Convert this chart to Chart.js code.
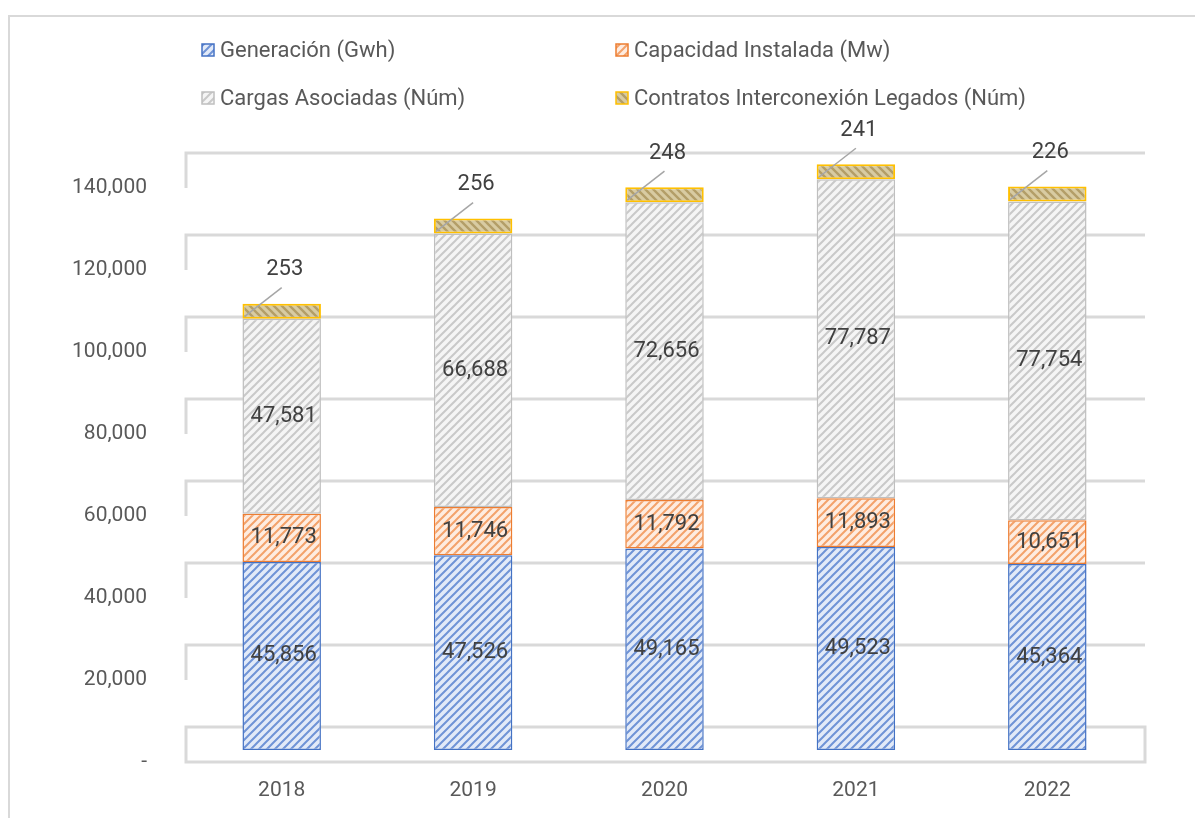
<!DOCTYPE html>
<html>
<head>
<meta charset="utf-8">
<script src="https://cdn.jsdelivr.net/npm/chart.js@4.4.1/dist/chart.umd.min.js"></script>
<style>
    html, body { margin: 0; padding: 0; background: #fff; }
    #wrap { width: 1195px; height: 818px; }
</style>
</head>
<body>
<div id="wrap"><canvas id="energyChart" width="1195" height="818"></canvas></div>
<script>
const years = ["2018", "2019", "2020", "2021", "2022"];
const generacion = [45856, 47526, 49165, 49523, 45364];
const capacidad = [11773, 11746, 11792, 11893, 10651];
const cargas = [47581, 66688, 72656, 77787, 77754];
const contratos = [253, 256, 248, 241, 226];
const yTicks = [0, 20000, 40000, 60000, 80000, 100000, 120000, 140000];
const seriesLabels = [
    "Generación (Gwh)",
    "Capacidad Instalada (Mw)",
    "Cargas Asociadas (Núm)",
    "Contratos Interconexión Legados (Núm)",
];

const textFont = "Roboto, 'Liberation Sans', sans-serif";

// diagonal hatch tile, dir 1 = "/", dir -1 = "\"
function makeHatch(bg, fg, lineW, size, dir) {
    const c = document.createElement("canvas");
    c.width = size;
    c.height = size;
    const g = c.getContext("2d");
    g.fillStyle = bg;
    g.fillRect(0, 0, size, size);
    g.strokeStyle = fg;
    g.lineWidth = lineW;
    g.beginPath();
    if (dir > 0) {
        g.moveTo(-1, size + 1); g.lineTo(size + 1, -1);
        g.moveTo(-1, 1); g.lineTo(1, -1);
        g.moveTo(size - 1, size + 1); g.lineTo(size + 1, size - 1);
    } else {
        g.moveTo(-1, -1); g.lineTo(size + 1, size + 1);
        g.moveTo(size - 1, -1); g.lineTo(size + 1, 1);
        g.moveTo(-1, size - 1); g.lineTo(1, size + 1);
    }
    g.stroke();
    return document.createElement("canvas").getContext("2d").createPattern(c, "repeat");
}

const hatchBlue = makeHatch("#e2eaf8", "#6f93d6", 2, 8, 1);
const hatchOrange = makeHatch("#feece0", "#f3a26b", 2, 8, 1);
const hatchGray = makeHatch("#f5f5f5", "#c9c9c9", 2, 8, 1);
const hatchYellow = makeHatch("#d8cba2", "#b39e68", 2.4, 8, -1);

const fills = [hatchBlue, hatchOrange, hatchGray, hatchYellow];
const borders = ["#4472C4", "#ED7D31", "#BFBFBF", "#FFC000"];

function fmt(v) {
    return v.toLocaleString("en-US");
}

const wallPlugin = {
    id: "wall",
    beforeDraw(chart) {
        const ctx = chart.ctx;
        ctx.save();
        ctx.fillStyle = "#fff";
        ctx.fillRect(0, 0, chart.width, chart.height);
        ctx.strokeStyle = "#d9d9d9";
        ctx.lineWidth = 2;
        ctx.beginPath();
        ctx.moveTo(9, chart.height);
        ctx.lineTo(9, 16);
        ctx.lineTo(chart.width, 16);
        ctx.stroke();
        ctx.restore();
    },
    beforeDatasetsDraw(chart) {
        const ctx = chart.ctx;
        const yScale = chart.scales.y;
        const left = chart.chartArea.left;
        const right = 1145;
        ctx.save();
        ctx.strokeStyle = "#d9d9d9";
        ctx.lineWidth = 3;
        yTicks.forEach((v) => {
            const py = yScale.getPixelForValue(v) - 23;
            if (v === 0) {
                ctx.strokeRect(left, py, right - left, 35);
            } else {
                ctx.beginPath();
                ctx.moveTo(left, py + 35);
                ctx.lineTo(left, py);
                ctx.lineTo(right, py);
                ctx.stroke();
            }
        });
        ctx.restore();
    },
    afterDatasetsDraw(chart) {
        const ctx = chart.ctx;
        ctx.save();
        ctx.font = "22px " + textFont;
        ctx.fillStyle = "#404040";
        ctx.textAlign = "center";
        ctx.textBaseline = "middle";
        [0, 1, 2].forEach((di) => {
            const meta = chart.getDatasetMeta(di);
            meta.data.forEach((bar, i) => {
                const v = chart.data.datasets[di].data[i];
                ctx.fillText(fmt(v), bar.x + 2, (bar.y + bar.base) / 2);
            });
        });
        const capMeta = chart.getDatasetMeta(3);
        capMeta.data.forEach((bar, i) => {
            const v = chart.data.datasets[3].data[i];
            ctx.strokeStyle = "#a6a6a6";
            ctx.lineWidth = 1.5;
            ctx.beginPath();
            ctx.moveTo(bar.x - bar.width / 2 + 2, bar.base - 2);
            ctx.lineTo(bar.x, bar.y - 16);
            ctx.stroke();
            ctx.fillText(fmt(v), bar.x + 3, bar.y - 34);
        });
        ctx.restore();
    },
    afterDraw(chart) {
        const ctx = chart.ctx;
        const colX = [202, 616];
        const rowY = [50, 98];
        ctx.save();
        ctx.font = "22px " + textFont;
        ctx.textBaseline = "middle";
        ctx.textAlign = "left";
        chart.data.datasets.forEach((ds, i) => {
            const x = colX[i % 2];
            const y = rowY[Math.floor(i / 2)];
            ctx.fillStyle = ds.backgroundColor;
            ctx.fillRect(x, y - 6, 12, 12);
            ctx.strokeStyle = ds.borderColor;
            ctx.lineWidth = 1.5;
            ctx.strokeRect(x, y - 6, 12, 12);
            ctx.fillStyle = "#595959";
            ctx.fillText(ds.label, x + 18, y + 1);
        });
        ctx.restore();
    },
};

const seriesData = [generacion, capacidad, cargas, contratos];

new Chart(document.getElementById("energyChart"), {
    type: "bar",
    data: {
        labels: years,
        datasets: seriesData.map((d, i) => ({
            label: seriesLabels[i],
            data: d,
            backgroundColor: fills[i],
            borderColor: borders[i],
            borderWidth: i === 3 ? 2 : 1.5,
            borderSkipped: false,
            minBarLength: i === 3 ? 15 : 0,
            clip: false,
            barPercentage: 0.41,
            categoryPercentage: 1,
        })),
    },
    options: {
        responsive: false,
        animation: false,
        layout: { padding: { left: 0, top: 176, right: 52, bottom: 0 } },
        plugins: {
            legend: { display: false },
            tooltip: { enabled: false },
        },
        scales: {
            x: {
                stacked: true,
                grid: { display: false, drawTicks: false },
                border: { display: false },
                ticks: {
                    color: "#595959",
                    font: { family: textFont, size: 21 },
                    padding: 28,
                },
                afterFit(scale) { scale.height = 68; },
            },
            y: {
                stacked: true,
                min: 0,
                max: 140000,
                grid: { display: false, drawTicks: false },
                border: { display: false },
                ticks: {
                    stepSize: 20000,
                    color: "#595959",
                    font: { family: textFont, size: 21 },
                    padding: 39,
                    labelOffset: 12,
                    callback: (v) => (v === 0 ? "-" : fmt(v)),
                },
                afterFit(scale) { scale.width = 186; },
            },
        },
    },
    plugins: [wallPlugin],
});
</script>
</body>
</html>
